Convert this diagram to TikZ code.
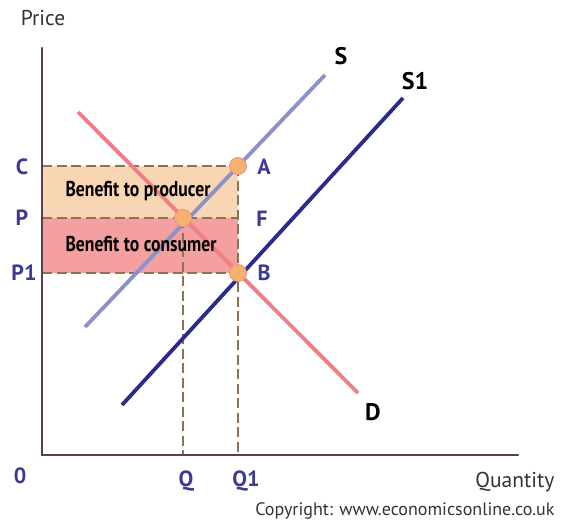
\documentclass[tikz,border=0pt]{standalone}
\usepackage{fontspec}
\setmainfont{PT Sans}
\newfontfamily\condfont[FakeStretch=0.82]{PT Sans}
\definecolor{axiscol}{HTML}{5B3F4F}
\definecolor{dashcol}{HTML}{8B7355}
\definecolor{peach}{HTML}{F8D5B3}
\definecolor{pinkfill}{HTML}{F5A0A0}
\definecolor{scol}{HTML}{8C92C9}
\definecolor{sonecol}{HTML}{2B2B8F}
\definecolor{dcol}{HTML}{F07F84}
\definecolor{dotfill}{HTML}{F5B26E}
\definecolor{dotdraw}{HTML}{E8908A}
\definecolor{lblblue}{HTML}{3B3B96}
\definecolor{txtgray}{HTML}{333333}
\begin{document}
\begin{tikzpicture}[x=1pt,y=-1pt,
  axisline/.style={draw=axiscol,line width=2.6pt},
  guide/.style={draw=dashcol,line width=1.3pt,dash pattern=on 10pt off 4.5pt},
  curve/.style={line width=3.8pt},
  dot/.style={circle,fill=dotfill,draw=dotdraw,line width=0.8pt,minimum size=17pt,inner sep=0pt},
  axlbl/.style={text=lblblue,font=\bfseries\fontsize{22}{26}\selectfont},
  crvlbl/.style={text=black,font=\bfseries\fontsize{24}{28}\selectfont},
  titl/.style={text=txtgray,font=\fontsize{21.5}{26}\selectfont},
  bentxt/.style={text=black,font=\condfont\bfseries\fontsize{21.5}{26}\selectfont}]
\useasboundingbox (0,0) rectangle (562,524);
% shaded areas
\fill[peach] (42,166) rectangle (238,218);
\fill[pinkfill] (42,218) rectangle (238,273);
% guide lines
\draw[guide] (42,166) -- (238,166);
\draw[guide] (42,218) -- (238,218);
\draw[guide] (42,273) -- (238,273);
\draw[guide] (238,166) -- (238,455);
\draw[guide] (183,218) -- (183,455);
% axes
\coordinate (ytop) at (42,48);
\coordinate (orig) at (42,455);
\coordinate (xend) at (518,455);
\draw[axisline,line cap=round] (ytop) -- (orig) -- (xend);
% curves
\coordinate (d1) at (78,112);
\coordinate (d2) at (358,393);
\coordinate (s1a) at (85,327);
\coordinate (s1b) at (325,75);
\coordinate (s2a) at (122,405);
\coordinate (s2b) at (403,98);
\draw[curve,dcol] (d1) -- (d2);
\draw[curve,scol] (s1a) -- (s1b);
\draw[curve,sonecol] (s2a) -- (s2b);
% texts in areas
\node[bentxt] (bp) at (138,191) {Benefit to producer};
\node[bentxt] (bc) at (141,244) {Benefit to consumer};
% points
\node[dot] (A) at (238,166) {};
\node[dot] (Pt) at (183,218) {};
\node[dot] (B) at (238,273) {};
% labels
\node[crvlbl] (lS) at (341,56) {S};
\node[crvlbl] (lS1) at (415,81) {S1};
\node[crvlbl] (lD) at (373,412) {D};
\node[axlbl] (lA) at (264,167) {A};
\node[axlbl] (lF) at (262,219) {F};
\node[axlbl] (lB) at (264,273) {B};
\node[axlbl] (lC) at (22,167) {C};
\node[axlbl] (lP) at (22,218) {P};
\node[axlbl] (lP1) at (24,273) {P1};
\node[axlbl] (l0) at (20,476) {0};
\node[axlbl] (lQ) at (186,481) {Q};
\node[axlbl] (lQ1) at (246,481) {Q1};
\node[titl] (price) at (43,18) {Price};
\node[titl,anchor=east] (qty) at (558,482) {Quantity};
\node[text=txtgray,font=\fontsize{18}{22}\selectfont,anchor=east] (copy) at (558,511) {Copyright: www.economicsonline.co.uk};
\end{tikzpicture}
\end{document}
